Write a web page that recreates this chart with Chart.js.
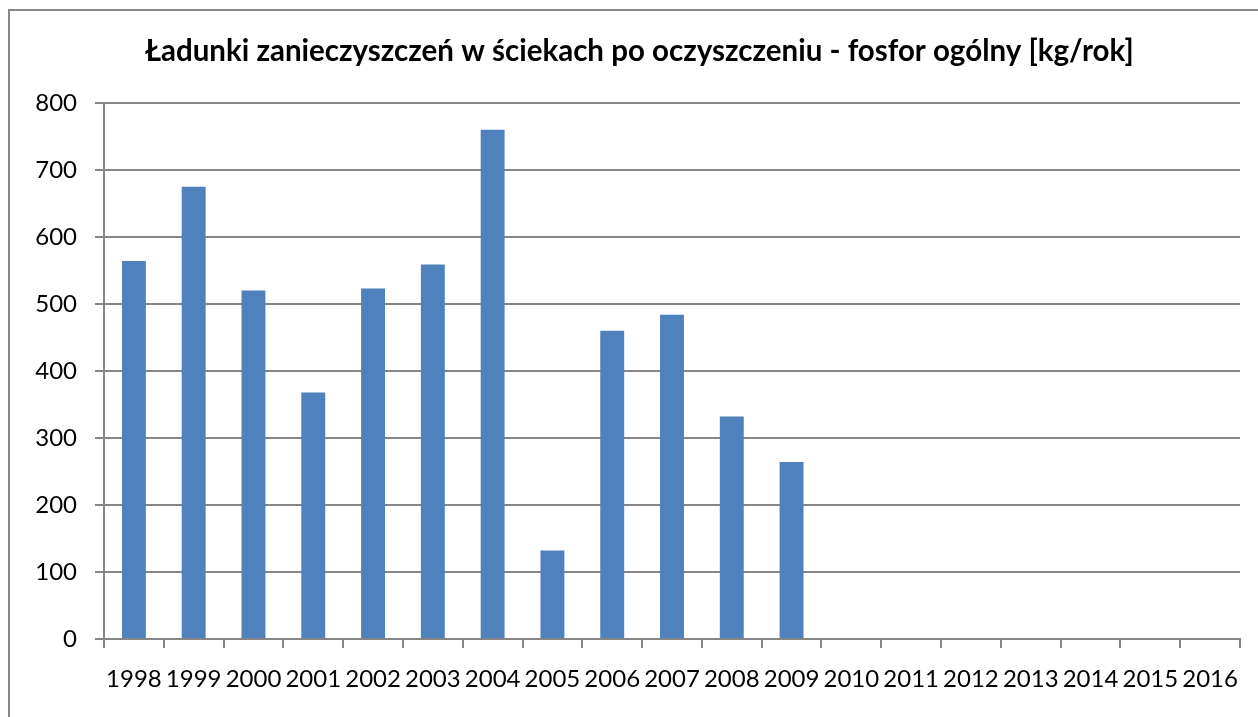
<!DOCTYPE html>
<html lang="pl">
<head>
<meta charset="utf-8">
<title>Fosfor ogólny</title>
<script src="https://cdn.jsdelivr.net/npm/chart.js@4.4.1/dist/chart.umd.min.js"></script>
<style>
  html, body { margin: 0; padding: 0; background: #fff; overflow: hidden; }
  #wrap { position: relative; width: 1258px; height: 717px; }
  #frame {
    position: absolute; left: 8px; top: 9px; right: -10px; bottom: -10px;
    border: 2px solid #868686; pointer-events: none;
  }
  canvas { position: absolute; left: 0; top: 0; }
</style>
</head>
<body>
<div id="wrap">
  <canvas id="chart" width="1258" height="717"></canvas>
  <div id="frame"></div>
</div>
<script>
const years = ['1998', '1999', '2000', '2001', '2002', '2003', '2004', '2005', '2006', '2007',
  '2008', '2009', '2010', '2011', '2012', '2013', '2014', '2015', '2016'];
const phosphorus = [564, 675, 520, 368, 523, 559, 760, 132, 460, 484, 332, 264,
  null, null, null, null, null, null, null];
const yMin = 0;
const yMax = 800;
const yStep = 100;

const lineGray = '#868686';
const barBlue = '#4f81bd';

Chart.defaults.font.family = 'Lato, "Open Sans", sans-serif';
Chart.defaults.color = '#000';

new Chart(document.getElementById('chart').getContext('2d'), {
  type: 'bar',
  data: {
    labels: years,
    datasets: [
      {
        label: 'fosfor ogólny',
        data: phosphorus,
        backgroundColor: barBlue,
        borderWidth: 0,
        categoryPercentage: 1,
        barPercentage: 0.4
      }
    ]
  },
  options: {
    responsive: false,
    animation: false,
    layout: { padding: { left: 21, right: 0, top: 0, bottom: 0 } },
    plugins: {
      legend: { display: false },
      tooltip: { enabled: false },
      title: {
        display: true,
        text: 'Ładunki zanieczyszczeń w ściekach po oczyszczeniu - fosfor ogólny [kg/rok]',
        color: '#000',
        font: { size: 29.5, weight: 'bold', lineHeight: 1.2 },
        padding: { top: 34, bottom: 33.6 }
      }
    },
    scales: {
      x: {
        offset: true,
        grid: {
          offset: true,
          drawOnChartArea: false,
          drawTicks: true,
          tickLength: 9,
          color: lineGray,
          lineWidth: 2
        },
        border: { display: true, color: lineGray, width: 2 },
        ticks: { font: { size: 24 }, padding: 17, maxRotation: 0, autoSkip: false },
        afterFit: (scale) => { scale.height = 78; }
      },
      y: {
        min: yMin,
        max: yMax,
        grid: { color: lineGray, lineWidth: 2, tickLength: 9 },
        border: { display: true, color: lineGray, width: 2 },
        ticks: { stepSize: yStep, font: { size: 24 }, padding: 18 },
        afterFit: (scale) => { scale.width = 83; }
      },
      // empty right margin so the title stays centred on the whole frame
      spacer: {
        type: 'linear',
        position: 'right',
        grid: { display: false },
        border: { display: false },
        ticks: { display: false },
        afterFit: (scale) => { scale.width = 18; }
      }
    }
  }
});
</script>
</body>
</html>
